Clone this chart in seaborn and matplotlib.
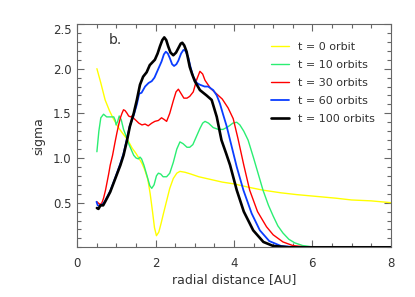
import matplotlib
matplotlib.use("Agg")
import matplotlib.pyplot as plt
import numpy as np
import pandas as pd
import seaborn as sns
from matplotlib.ticker import MultipleLocator

# t = 0 orbit
x_t0 = [0.5, 0.6, 0.71, 0.82, 0.92, 1.05, 1.15, 1.22, 1.3, 1.4, 1.5, 1.57, 1.65, 1.72,
        1.8, 1.86, 1.92, 1.97, 2.02, 2.08, 2.14, 2.2, 2.28, 2.36, 2.45, 2.54, 2.62,
        2.75, 2.9, 3.1, 3.4, 3.7, 4.0, 4.4, 4.74, 5.2, 5.6, 6.1, 6.6, 7.0, 7.5, 8.0]
y_t0 = [2.0, 1.84, 1.65, 1.53, 1.44, 1.34, 1.28, 1.24, 1.19, 1.11, 1.05, 1.0, 0.94, 0.87,
        0.76, 0.6, 0.4, 0.22, 0.13, 0.17, 0.27, 0.38, 0.52, 0.66, 0.77, 0.83, 0.85,
        0.84, 0.82, 0.79, 0.76, 0.73, 0.71, 0.67, 0.64, 0.61, 0.59, 0.57, 0.55, 0.53, 0.52, 0.50]

# t = 10 orbits
x_t10 = [0.5, 0.55, 0.6, 0.67, 0.75, 0.85, 0.93, 0.97, 0.99, 1.03, 1.07, 1.12, 1.18,
         1.25, 1.31, 1.38, 1.44, 1.5, 1.56, 1.6, 1.64, 1.7, 1.78, 1.85, 1.9, 1.96,
         2.02, 2.07, 2.13, 2.19, 2.28, 2.36, 2.45, 2.54, 2.62, 2.7, 2.8, 2.87, 2.95,
         3.05, 3.13, 3.2, 3.26, 3.35, 3.47, 3.6, 3.72, 3.85, 3.97, 4.07, 4.15, 4.25,
         4.36, 4.5, 4.62, 4.74, 4.88, 5.0, 5.12, 5.25, 5.4, 5.55, 5.75, 6.0, 6.5, 8.0]
y_t10 = [1.07, 1.3, 1.45, 1.49, 1.46, 1.46, 1.46, 1.42, 1.37, 1.41, 1.47, 1.43, 1.32,
         1.24, 1.16, 1.09, 1.03, 1.0, 0.99, 1.01, 0.99, 0.92, 0.8, 0.69, 0.66, 0.7,
         0.8, 0.83, 0.82, 0.79, 0.79, 0.83, 0.95, 1.1, 1.18, 1.16, 1.12, 1.12, 1.15,
         1.25, 1.33, 1.39, 1.41, 1.39, 1.34, 1.32, 1.32, 1.35, 1.39, 1.4, 1.37, 1.3,
         1.2, 1.0, 0.82, 0.64, 0.47, 0.35, 0.24, 0.16, 0.09, 0.05, 0.02, 0.005, 0.0, 0.0]

# t = 30 orbits
x_t30 = [0.5, 0.55, 0.59, 0.63, 0.67, 0.72, 0.76, 0.8, 0.84, 0.9, 0.96, 1.01, 1.06, 1.1,
         1.14, 1.18, 1.22, 1.27, 1.31, 1.36, 1.4, 1.45, 1.5, 1.57, 1.65, 1.73, 1.81, 1.9,
         1.98, 2.07, 2.15, 2.22, 2.28, 2.36, 2.45, 2.52, 2.58, 2.65, 2.72, 2.8, 2.87,
         2.96, 3.05, 3.13, 3.2, 3.26, 3.4, 3.55, 3.7, 3.85, 3.98, 4.1, 4.25, 4.4, 4.6,
         4.83, 5.0, 5.25, 5.5, 5.8, 6.2, 8.0]
y_t30 = [0.51, 0.49, 0.48, 0.5, 0.55, 0.64, 0.73, 0.82, 0.92, 1.03, 1.17, 1.28, 1.38, 1.45,
         1.5, 1.54, 1.53, 1.5, 1.47, 1.46, 1.47, 1.44, 1.42, 1.39, 1.37, 1.38, 1.36, 1.39,
         1.41, 1.42, 1.45, 1.43, 1.41, 1.5, 1.64, 1.74, 1.77, 1.72, 1.67, 1.67, 1.69,
         1.74, 1.88, 1.97, 1.94, 1.87, 1.78, 1.72, 1.66, 1.56, 1.44, 1.22, 0.92, 0.64, 0.4,
         0.23, 0.14, 0.06, 0.02, 0.005, 0.0, 0.0]

# t = 60 orbits
x_t60 = [0.49, 0.52, 0.58, 0.66, 0.71, 0.84, 0.97, 1.1, 1.18, 1.27, 1.34, 1.44, 1.52,
         1.58, 1.64, 1.73, 1.82, 1.9, 1.97, 2.02, 2.1, 2.15, 2.21, 2.26, 2.31, 2.36,
         2.42, 2.47, 2.53, 2.58, 2.65, 2.71, 2.76, 2.83, 2.9, 2.96, 3.05, 3.13, 3.25,
         3.34, 3.47, 3.56, 3.64, 3.72, 3.81, 3.9, 4.07, 4.24, 4.45, 4.66, 4.9, 5.2, 5.6, 8.0]
y_t60 = [0.51, 0.47, 0.46, 0.49, 0.52, 0.63, 0.78, 0.94, 1.05, 1.22, 1.36, 1.48, 1.6,
         1.72, 1.73, 1.8, 1.84, 1.86, 1.9, 1.95, 2.03, 2.08, 2.16, 2.19, 2.17, 2.12,
         2.05, 2.03, 2.05, 2.09, 2.17, 2.21, 2.2, 2.13, 2.0, 1.91, 1.84, 1.82, 1.8,
         1.8, 1.76, 1.7, 1.61, 1.49, 1.36, 1.2, 0.9, 0.64, 0.38, 0.19, 0.07, 0.015, 0.0, 0.0]

# t = 100 orbits
x_t100 = [0.5, 0.54, 0.59, 0.66, 0.71, 0.84, 0.97, 1.1, 1.18, 1.27, 1.34, 1.44, 1.52,
          1.6, 1.68, 1.77, 1.85, 1.98, 2.05, 2.11, 2.17, 2.22, 2.27, 2.32, 2.38, 2.45,
          2.52, 2.58, 2.64, 2.68, 2.73, 2.79, 2.87, 2.93, 3.0, 3.13, 3.3, 3.43, 3.56,
          3.68, 3.8, 3.9, 4.07, 4.25, 4.49, 4.75, 5.0, 5.4, 8.0]
y_t100 = [0.44, 0.43, 0.47, 0.47, 0.51, 0.62, 0.77, 0.92, 1.03, 1.2, 1.35, 1.5, 1.65,
          1.82, 1.91, 1.96, 2.04, 2.1, 2.17, 2.25, 2.32, 2.35, 2.32, 2.25, 2.18, 2.15,
          2.18, 2.23, 2.28, 2.29, 2.26, 2.19, 2.02, 1.94, 1.86, 1.76, 1.7, 1.65, 1.46,
          1.2, 1.05, 0.92, 0.64, 0.4, 0.19, 0.06, 0.015, 0.0, 0.0]

labels = ["t = 0 orbit", "t = 10 orbits", "t = 30 orbits", "t = 60 orbits", "t = 100 orbits"]
colors = ["#ffff00", "#2bee72", "#ff0000", "#0a3dff", "#000000"]
widths = [1.0, 1.0, 1.0, 1.3, 1.9]

xs = [x_t0, x_t10, x_t30, x_t60, x_t100]
ys = [y_t0, y_t10, y_t30, y_t60, y_t100]
df = pd.concat([pd.DataFrame({"r": x, "sigma": y, "run": lab})
                for x, y, lab in zip(xs, ys, labels)], ignore_index=True)

sns.set_theme(style="ticks")
plt.rcParams["font.family"] = ["DejaVu Sans"]

fig = plt.figure(figsize=(4.15, 2.97), dpi=100)
ax = fig.add_axes([0.1863, 0.1673, 0.7551, 0.7519])

sns.lineplot(data=df, x="r", y="sigma", hue="run", size="run",
             palette=dict(zip(labels, colors)), sizes=dict(zip(labels, widths)),
             hue_order=labels, size_order=labels,
             estimator=None, sort=False, legend=False, ax=ax)

ax.set_xlim(0, 8)
ax.set_ylim(0, 2.5)
ax.set_xticks([0, 2, 4, 6, 8])
ax.set_yticks([0.5, 1.0, 1.5, 2.0, 2.5])
ax.set_yticklabels(["0.5", "1.0", "1.5", "2.0", "2.5"])
ax.xaxis.set_minor_locator(MultipleLocator(0.5))
ax.yaxis.set_minor_locator(MultipleLocator(0.1))
ax.tick_params(which="both", direction="in", top=True, right=True, colors="#666666",
               labelcolor="#333333", labelsize=8.5)
ax.tick_params(which="major", length=5, width=0.8)
ax.tick_params(which="minor", length=3, width=0.8)
ax.tick_params(axis="x", pad=7)
ax.tick_params(axis="y", pad=4)
for sp in ax.spines.values():
    sp.set_color("#666666")
    sp.set_linewidth(0.8)
ax.get_yticklabels()[-1].set_va("top")

ax.set_xlabel("radial distance [AU]", fontsize=9, color="#333333", labelpad=2)
ax.set_ylabel("sigma", fontsize=9, color="#333333", labelpad=6)
ax.text(0.96, 2.32, "b.", fontsize=10, color="#333333", ha="center", va="center")

ax.legend(handles=ax.get_lines(), labels=labels, loc="upper left",
          bbox_to_anchor=(0.652, 0.858), bbox_transform=fig.transFigure,
          frameon=False, fontsize=8, handlelength=1.7, handletextpad=0.75,
          labelspacing=0.72, borderpad=0, borderaxespad=0, labelcolor="#333333")

fig.savefig("out.png", dpi=100)
